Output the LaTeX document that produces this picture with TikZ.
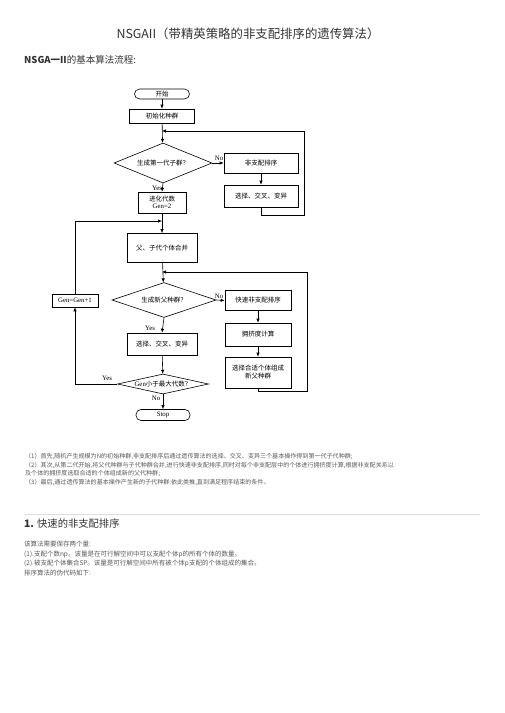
\documentclass[tikz,border=0pt]{standalone}
\usepackage{fontspec}
\setmainfont{Liberation Serif}
\newfontfamily\cjk{Noto Sans CJK SC}
\usetikzlibrary{shapes.geometric,arrows.meta}
\definecolor{ctitle}{HTML}{333333}
\definecolor{cbody}{HTML}{5A5A5A}
\definecolor{csep}{HTML}{DDDDDD}
\newcommand{\fcz}{\cjk\fontsize{6.5}{8}\selectfont}
\newcommand{\fcl}{\rmfamily\fontsize{6.8}{8}\selectfont}
\begin{document}
\begin{tikzpicture}[x=1pt,y=-1pt,
  box/.style={draw, line width=0.6pt, inner sep=0pt, font=\fcz, align=center},
  term/.style={box, rounded corners=5pt},
  dia/.style={draw, diamond, line width=0.6pt, inner sep=0pt, font=\fcz},
  arr/.style={-{Latex[length=4pt,width=3.4pt]}, line width=0.6pt},
  lbl/.style={font=\fcl, inner sep=0pt},
  para/.style={anchor=west, inner sep=0pt, text=cbody, font=\cjk\fontsize{6.05}{7}\selectfont},
  body/.style={anchor=west, inner sep=0pt, text=cbody, font=\cjk\fontsize{6.5}{8}\selectfont}]
\useasboundingbox (0,0) rectangle (504,713);
\fill[white] (0,0) rectangle (504,713);

% header
\node[inner sep=0pt, text=ctitle, font=\cjk\fontsize{12.4}{14}\selectfont] (title) at (248,34) {NSGAII（带精英策略的非支配排序的遗传算法）};
\node[anchor=west, inner sep=0pt, text=ctitle, font=\cjk\fontsize{9.5}{11}\selectfont] (sub) at (24,60) {\textbf{NSGA一II}的基本算法流程:};

% flowchart nodes
\node[term, minimum width=55pt, minimum height=10pt] (start) at (162,94) {开始};
\node[box, minimum width=65pt, minimum height=14pt] (init) at (162,116) {初始化种群};
\node[dia, minimum width=98pt, minimum height=40pt, shape aspect=2.5] (d1) at (163,163) {生成第一代子群？};
\node[box, minimum width=74pt, minimum height=20pt] (nsort) at (261,163) {非支配排序};
\node[box, minimum width=74pt, minimum height=22pt] (sel1) at (261,196) {选择、交叉、变异};
\node[box, minimum width=48pt, minimum height=21pt] (gen2) at (162,202.5) {进化代数\\[-1pt]{\fcl Gen=2}};
\node[box, minimum width=70pt, minimum height=29pt] (merge) at (162,248) {父、子代个体合并};
\node[dia, minimum width=104pt, minimum height=35pt, shape aspect=3] (d2) at (164,300) {生成新父种群？};
\node[box, minimum width=66pt, minimum height=20pt] (fsort) at (258,300.5) {快速非支配排序};
\node[box, minimum width=66pt, minimum height=23pt] (crowd) at (258,334.5) {拥挤度计算};
\node[box, minimum width=66pt, minimum height=31pt] (selnew) at (258,372.5) {选择合适个体组成\\新父种群};
\node[box, minimum width=46pt, minimum height=13pt, font=\fcl] (genp1) at (75,300.5) {Gen=Gen+1};
\node[box, minimum width=70pt, minimum height=22pt] (sel2) at (162,344) {选择、交叉、变异};
\node[dia, minimum width=91pt, minimum height=20pt, shape aspect=4.5] (d3) at (163,384) {{\fcl Gen}小于最大代数？};
\node[term, minimum width=54pt, minimum height=11pt, font=\fcl] (stop) at (163,415) {Stop};

% junction coordinates
\coordinate (j1) at (162,131);
\coordinate (c1a) at (261,215);
\coordinate (c1b) at (304,215);
\coordinate (c1c) at (304,131);
\coordinate (j2) at (162,221);
\coordinate (c2a) at (75,221);
\coordinate (j3) at (162,272);
\coordinate (c3a) at (258,391);
\coordinate (c3b) at (307,391);
\coordinate (c3c) at (307,272);
\coordinate (c4a) at (75,384);

% connectors
\draw[arr] (start) -- (init);
\draw[arr] (init) -- (d1);
\draw[arr] (sel1) -- (c1a) -- (c1b) -- (c1c) -- (j1);
\draw[arr] (d1.east) -- (nsort.west);
\draw[arr] (nsort) -- (sel1);
\draw[arr] (d1.south) -- (gen2.north);
\draw[arr] (gen2) -- (merge);
\draw[arr] (genp1.north) -- (c2a) -- (j2);
\draw[arr] (merge) -- (d2);
\draw[arr] (selnew.south) -- (c3a) -- (c3b) -- (c3c) -- (j3);
\draw[arr] (d2.east) -- (fsort.west);
\draw[arr] (fsort) -- (crowd);
\draw[arr] (crowd) -- (selnew);
\draw[arr] (d2.south) -- (sel2.north);
\draw[arr] (sel2) -- (d3);
\draw[arr] (d3.west) -- (c4a) -- (genp1.south);
\draw[arr] (d3.south) -- (stop.north);

% labels
\node[lbl] (no1) at (219,158) {No};
\node[lbl] (yes1) at (157,188.5) {Yes};
\node[lbl] (no2) at (219,296) {No};
\node[lbl] (yes2) at (150,328) {Yes};
\node[lbl] (yes3) at (107,378.5) {Yes};
\node[lbl] (no3) at (156,398) {No};

% description text
\node[para] (p1) at (25,456) {（1）首先,随机产生规模为N的初始种群,非支配排序后通过遗传算法的选择、交叉、变异三个基本操作得到第一代子代种群;};
\node[para] (p2) at (25,465) {（2）其次,从第二代开始,将父代种群与子代种群合并,进行快速非支配排序,同时对每个非支配层中的个体进行拥挤度计算,根据非支配关系以};
\node[para] (p3) at (25,473.5) {及个体的拥挤度选取合适的个体组成新的父代种群;};
\node[para] (p4) at (25,482) {（3）最后,通过遗传算法的基本操作产生新的子代种群:依此类推,直到满足程序结束的条件。};
\draw[csep, line width=0.6pt] (24,514) -- (480,514);

\node[anchor=west, inner sep=0pt, text=ctitle, font=\cjk\fontsize{10.3}{12}\selectfont] (h1) at (24,524) {\textbf{1.} 快速的非支配排序};
\node[body] (b1) at (24,544) {该算法需要保存两个量:};
\node[body] (b2) at (24,554) {(1).支配个数np。该量是在可行解空间中可以支配个体p的所有个体的数量。};
\node[body] (b3) at (24,563.5) {(2).被支配个体集合SP。该量是可行解空间中所有被个体p支配的个体组成的集合。};
\node[body] (b4) at (24,573) {排序算法的伪代码如下:};
\end{tikzpicture}
\end{document}
